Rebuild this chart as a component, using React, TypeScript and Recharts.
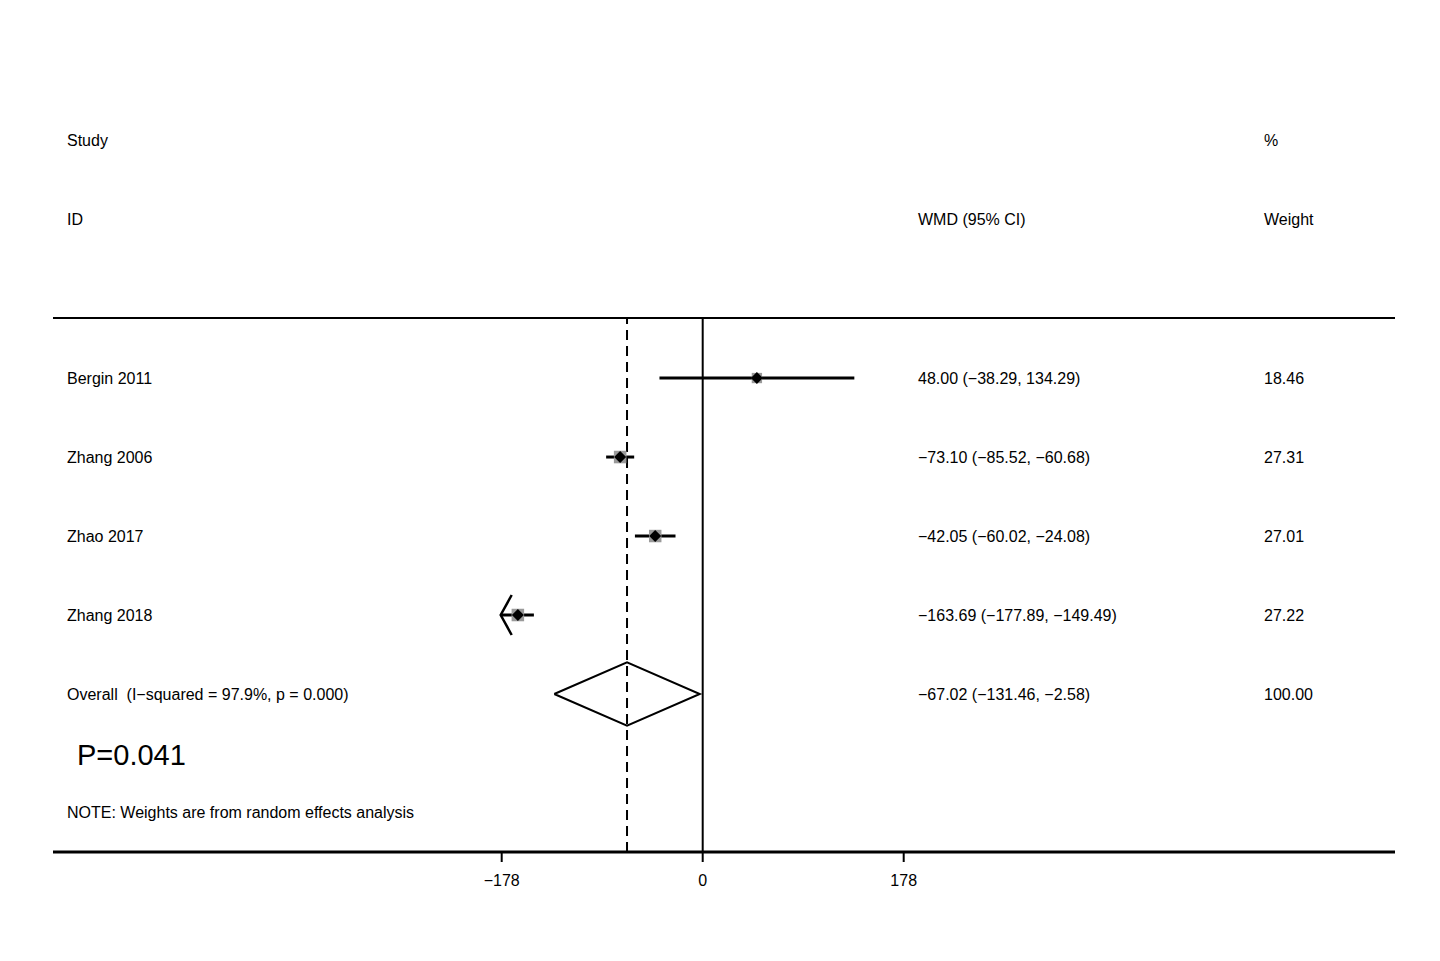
import React from 'react';
import { ComposedChart, Scatter, XAxis, YAxis, ReferenceLine, ErrorBar } from 'recharts';

const studyNames = ['Bergin 2011', 'Zhang 2006', 'Zhao 2017', 'Zhang 2018'];
const wmd = [48.0, -73.1, -42.05, -163.69];
const ciLow = [-38.29, -85.52, -60.02, -177.89];
const ciHigh = [134.29, -60.68, -24.08, -149.49];
const weights = [18.46, 27.31, 27.01, 27.22];

const overallEst = -67.02;
const overallLow = -131.46;
const overallHigh = -2.58;
const overallLabel = 'Overall  (I\u2212squared = 97.9%, p = 0.000)';
const axisTicks = [-178, 0, 178];
const axisClip = -178;

// layout
const W = 1440;
const H = 961;
const plotLeft = 53;
const plotRight = 1395;
const plotTop = 318;
const plotBottom = 852;
const zeroPx = 702.7;
const pxPerUnit = 201 / 178;
const xDomain = [-(zeroPx - plotLeft) / pxPerUnit, (plotRight - zeroPx) / pxPerUnit];
const yDomain = [-0.76, 6.0];
const xAxisHeight = 50;

const FONT = '"Liberation Sans", Arial, sans-serif';
const colLabel = 67;
const colCI = 918;
const colWeight = 1264;

const fmt = (v: number) => v.toFixed(2).replace('-', '\u2212');

const rows = studyNames.map((name, i) => ({
  name,
  x: wmd[i],
  y: i,
  err: [wmd[i] - ciLow[i], ciHigh[i] - wmd[i]],
  ci: `${fmt(wmd[i])} (${fmt(ciLow[i])}, ${fmt(ciHigh[i])})`,
  weight: weights[i],
}));

const overallRow = studyNames.length;
const diamondHalf = 0.4;
const diamondPts = [
  { x: overallLow, y: overallRow },
  { x: overallEst, y: overallRow - diamondHalf },
  { x: overallHigh, y: overallRow },
  { x: overallEst, y: overallRow + diamondHalf },
  { x: overallLow, y: overallRow },
];
const overallData = [{ x: overallEst, y: overallRow, ci: `${fmt(overallEst)} (${fmt(overallLow)}, ${fmt(overallHigh)})` }];
const arrowData = wmd.map((v, i) => ({ x: axisClip, y: i, clipped: ciLow[i] <= axisClip + 1 })).filter(d => d.clipped);

const txt = { fontFamily: FONT, fontSize: 16, fill: '#000', style: { whiteSpace: 'pre' as const } };

const StudyShape = (props: any) => {
  const { cx, cy, payload } = props;
  const side = 2.4 * Math.sqrt(payload.weight);
  const d = 6;
  return (
    <g>
      <rect x={cx - side / 2} y={cy - side / 2} width={side} height={side} fill="#9a9a9a" />
      <polygon points={`${cx - d},${cy} ${cx},${cy - d} ${cx + d},${cy} ${cx},${cy + d}`} fill="#000" />
      <text x={colLabel} y={cy} dominantBaseline="central" {...txt}>{payload.name}</text>
      <text x={colCI} y={cy} dominantBaseline="central" {...txt}>{payload.ci}</text>
      <text x={colWeight} y={cy} dominantBaseline="central" {...txt}>{payload.weight.toFixed(2)}</text>
    </g>
  );
};

const OverallShape = (props: any) => {
  const { cy, payload } = props;
  return (
    <g>
      <text x={colLabel} y={cy} dominantBaseline="central" {...txt}>{overallLabel}</text>
      <text x={colCI} y={cy} dominantBaseline="central" {...txt}>{payload.ci}</text>
      <text x={colWeight} y={cy} dominantBaseline="central" {...txt}>100.00</text>
    </g>
  );
};

const ArrowShape = (props: any) => {
  const { cx, cy } = props;
  return <path d={`M${cx + 10},${cy - 20} L${cx - 1},${cy} L${cx + 10},${cy + 20}`} stroke="#000" strokeWidth={2.5} fill="none" />;
};

const NoShape = () => <g />;

const headStyle: React.CSSProperties = {
  position: 'absolute',
  fontFamily: FONT,
  fontSize: 16,
  color: '#000',
  lineHeight: '20px',
  whiteSpace: 'nowrap',
};

const App: React.FC = () => {
  return (
    <div style={{ position: 'absolute', left: 0, top: 0, width: W, height: H, background: '#fff' }}>
      <ComposedChart
        width={W}
        height={H}
        margin={{ top: plotTop, left: plotLeft, right: W - plotRight, bottom: H - plotBottom - xAxisHeight }}
      >
        <XAxis
          type="number"
          dataKey="x"
          domain={xDomain}
          allowDataOverflow
          ticks={axisTicks}
          tickFormatter={(v: number) => String(v).replace('-', '\u2212')}
          height={xAxisHeight}
          tickSize={10}
          tickMargin={13}
          axisLine={{ stroke: '#000', strokeWidth: 3 }}
          tickLine={{ stroke: '#000', strokeWidth: 2 }}
          tick={{ fill: '#000', fontSize: 16, fontFamily: FONT }}
        />
        <YAxis type="number" dataKey="y" domain={yDomain} reversed hide width={0} allowDataOverflow />
        <ReferenceLine y={yDomain[0]} stroke="#000" strokeWidth={2} ifOverflow="visible" />
        <ReferenceLine x={0} stroke="#000" strokeWidth={2} />
        <ReferenceLine x={overallEst} stroke="#000" strokeWidth={2} strokeDasharray="10 6" />
        <Scatter data={rows} shape={StudyShape} isAnimationActive={false}>
          <ErrorBar dataKey="err" direction="x" width={0} stroke="#000" strokeWidth={3} isAnimationActive={false} />
        </Scatter>
        <Scatter data={arrowData} shape={ArrowShape} isAnimationActive={false} />
        <Scatter data={diamondPts} line={{ stroke: '#000', strokeWidth: 2 }} lineJointType="linear" shape={NoShape} isAnimationActive={false} />
        <Scatter data={overallData} shape={OverallShape} isAnimationActive={false} />
      </ComposedChart>

      <div style={{ ...headStyle, left: colLabel, top: 131 }}>Study</div>
      <div style={{ ...headStyle, left: colLabel, top: 210 }}>ID</div>
      <div style={{ ...headStyle, left: colCI, top: 210 }}>WMD (95% CI)</div>
      <div style={{ ...headStyle, left: colWeight, top: 131 }}>%</div>
      <div style={{ ...headStyle, left: colWeight, top: 210 }}>Weight</div>
      <div style={{ ...headStyle, left: 77, top: 736, fontSize: 29, lineHeight: '38px' }}>P=0.041</div>
      <div style={{ ...headStyle, left: colLabel, top: 803 }}>NOTE: Weights are from random effects analysis</div>
    </div>
  );
};

export default App;
